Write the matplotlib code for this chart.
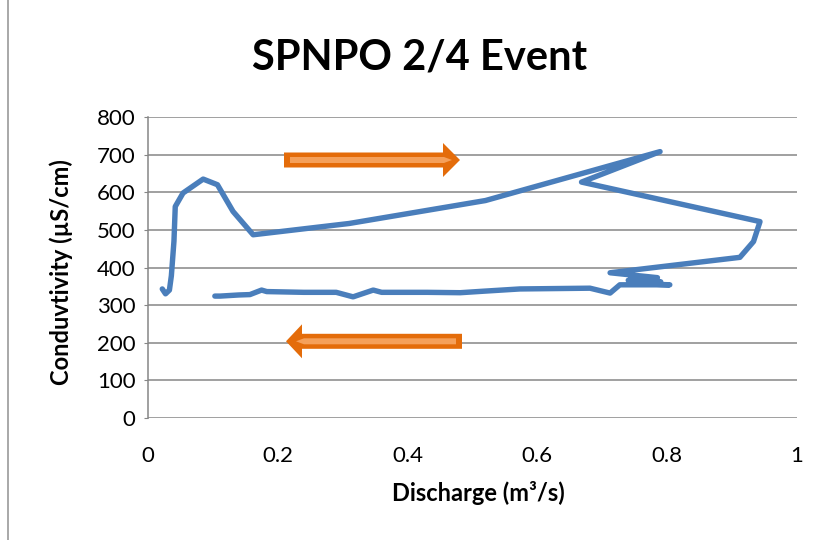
import matplotlib
matplotlib.use("Agg")
import matplotlib.pyplot as plt
from matplotlib.patches import Polygon
from matplotlib.lines import Line2D

# discharge (m3/s) and conductivity (uS/cm) in path order
discharge = [0.022, 0.027, 0.033, 0.036, 0.040, 0.042, 0.054, 0.085, 0.107,
             0.131, 0.162, 0.310, 0.520, 0.789, 0.668, 0.943, 0.933, 0.912,
             0.712, 0.785, 0.740, 0.790, 0.745, 0.804, 0.727, 0.712, 0.681,
             0.573, 0.517, 0.481, 0.430, 0.360, 0.347, 0.316, 0.290, 0.240,
             0.183, 0.175, 0.157, 0.140, 0.111, 0.103]
conductivity = [343, 330, 340, 378, 470, 562, 598, 635, 620,
                549, 487, 517, 578, 708, 627, 522, 469, 427,
                386, 373, 366, 362, 358, 354, 354, 332, 345,
                343, 337, 333, 334, 334, 340, 322, 334, 334,
                336, 340, 328, 327, 324, 324]

x_ticks = [0, 0.2, 0.4, 0.6, 0.8, 1]
x_tick_labels = ["0", "0.2", "0.4", "0.6", "0.8", "1"]
y_ticks = [0, 100, 200, 300, 400, 500, 600, 700, 800]

W, H = 822, 540
plt.rcParams['font.family'] = ['Lato', 'DejaVu Sans']

fig = plt.figure(figsize=(W / 100, H / 100), dpi=100)
ax = fig.add_axes([148 / W, 1 - 418 / H, (797 - 148) / W, (418 - 117) / H])

grid_col = '#868686'
ax.plot(discharge, conductivity, color='#4A7EBB', lw=3.9,
        solid_capstyle='round', solid_joinstyle='round', zorder=3)

ax.set_xlim(0, 1)
ax.set_ylim(0, 800)
ax.set_xticks(x_ticks)
ax.set_xticklabels(x_tick_labels)
ax.set_yticks(y_ticks)
ax.grid(axis='y', color=grid_col, lw=1.1)
ax.set_axisbelow(True)
for side in ['top', 'right', 'bottom']:
    ax.spines[side].set_visible(False)
ax.spines['left'].set_color(grid_col)
ax.spines['left'].set_linewidth(1.1)
ax.tick_params(axis='y', length=3, color=grid_col, labelsize=16, pad=6)
ax.tick_params(axis='x', length=0, labelsize=16, pad=20)

fig.text(478 / W, 1 - 493 / H, 'Discharge (m³/s)', fontsize=17,
         fontweight='bold', ha='center', va='center')
fig.text(61 / W, 1 - 272 / H, 'Conduvtivity (µS/cm)', fontsize=17,
         fontweight='bold', ha='center', va='center', rotation=90)
fig.text(420 / W, 1 - 57 / H, 'SPNPO 2/4 Event', fontsize=30,
         fontweight='bold', ha='center', va='center')


def arrow_px(tail, tip, yc, half_body, half_head, head_base):
    # arrow outline in pixel coords -> figure fraction
    pts = [(tail, yc - half_body), (head_base, yc - half_body),
           (head_base, yc - half_head), (tip, yc),
           (head_base, yc + half_head), (head_base, yc + half_body),
           (tail, yc + half_body)]
    return [(x / W, 1 - y / H) for x, y in pts]


# direction arrows
for tail, tip, yc, base, s_tail, s_tip, s_base in [
        (284, 460, 160, 443, 290, 452, 444),
        (462, 286, 341.3, 302, 456, 296, 304)]:
    fig.add_artist(Polygon(arrow_px(tail, tip, yc, 7.5, 17, base),
                           closed=True, transform=fig.transFigure,
                           facecolor='#E46C0A', edgecolor='none'))
    fig.add_artist(Polygon(arrow_px(s_tail, s_tip, yc, 3, 3, s_base),
                           closed=True, transform=fig.transFigure,
                           facecolor='#F5A05A', edgecolor='none'))

# chart area border (left edge visible)
fig.add_artist(Line2D([8 / W, 8 / W], [0, 1], color='#9A9A9A', lw=1.2,
                      transform=fig.transFigure))

fig.savefig('out.png', dpi=100)
